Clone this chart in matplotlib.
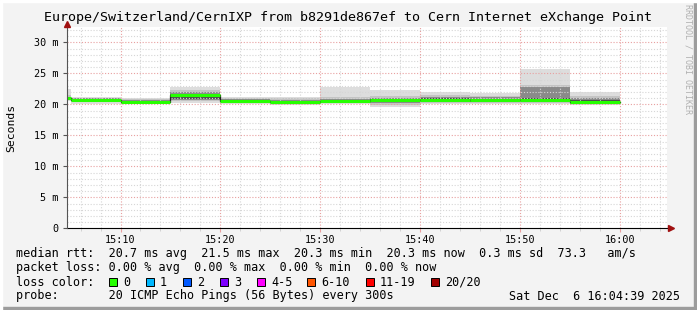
import matplotlib
matplotlib.use("Agg")
import matplotlib.pyplot as plt
from matplotlib.patches import Rectangle
import numpy as np

W, H = 697, 310

# step edges in minutes after 15:00 (first one is the partial step at the left edge)
edges = [4.65, 5, 10, 15, 20, 25, 30, 35, 40, 45, 50, 55, 60]
# rtt median per step (ms)
median = [21.0, 20.75, 20.45, 21.5, 20.5, 20.45, 20.6, 20.65, 20.75, 20.7, 20.7, 20.3]
# smoke bands, outer (lightest) to inner (darkest)
hi1 = [22.5, 21.2, 21.05, 22.85, 21.2, 21.2, 22.85, 22.3, 21.98, 21.82, 25.74, 21.98]
lo1 = [20.6, 20.1, 20.05, 20.15, 20.05, 19.95, 20.05, 19.6, 20.0, 20.05, 20.05, 19.95]
hi2 = [21.5, 21.05, 20.8, 22.3, 21.0, 20.95, 21.2, 21.3, 21.5, 21.35, 23.16, 21.3]
lo2 = [20.8, 20.3, 20.15, 20.5, 20.15, 20.1, 20.2, 19.9, 20.2, 20.2, 20.2, 20.0]
hi3 = [21.2, 20.95, 20.65, 21.95, 20.8, 20.75, 20.9, 20.95, 21.2, 21.2, 22.74, 20.95]
lo3 = [20.9, 20.5, 20.25, 20.75, 20.3, 20.25, 20.3, 20.2, 20.4, 20.35, 20.35, 20.1]
hi4 = [21.1, 20.85, 20.55, 21.6, 20.65, 20.6, 20.75, 20.8, 20.95, 20.9, 20.95, 20.65]
lo4 = [20.95, 20.6, 20.35, 20.9, 20.4, 20.35, 20.45, 20.4, 20.55, 20.45, 20.5, 20.2]
band_colors = ['#dddddd', '#c4c4c4', '#8a8a8a', '#4e4e4e']

xticks = [10, 20, 30, 40, 50, 60]
xlabels = ['15:10', '15:20', '15:30', '15:40', '15:50', '16:00']
yticks = [0, 5, 10, 15, 20, 25, 30]
ylabels = ['0', '5 m', '10 m', '15 m', '20 m', '25 m', '30 m']

loss_labels = ['0', '1', '2', '3', '4-5', '6-10', '11-19', '20/20']
loss_colors = ['#26ff00', '#00b8ff', '#0059ff', '#7e00ff', '#ff00ff', '#ff5500', '#ff0000', '#a10000']
loss_box_x = [109, 146, 183, 220, 257, 307, 366, 431]

MONO = 'DejaVu Sans Mono'


def px(x, y):
    return x / W, 1 - y / H


fig = plt.figure(figsize=(W / 100, H / 100), dpi=100, facecolor='#f3f3f3')

# 3d frame
fig.patches.append(Rectangle((0, 0), 1, 3 / H, transform=fig.transFigure, color='#9c9c9c', zorder=0))
fig.patches.append(Rectangle((1 - 3 / W, 0), 3 / W, 1, transform=fig.transFigure, color='#9c9c9c', zorder=0))
fig.patches.append(Rectangle((0, 1 - 2 / H), 1, 2 / H, transform=fig.transFigure, color='#ffffff', zorder=0))
fig.patches.append(Rectangle((0, 0), 2 / W, 1, transform=fig.transFigure, color='#ffffff', zorder=0))

top_px, bot_px = 27, 228.3
ax = fig.add_axes([67 / W, (H - bot_px) / H, 600 / W, (bot_px - top_px) / H])
ax.set_facecolor('white')
ax.set_xlim(edges[0], edges[0] + 60)
ax.set_ylim(0, (bot_px - top_px) / 6.2)
for s in ax.spines.values():
    s.set_visible(False)

x = np.array(edges)


def stepvals(v):
    return np.append(v, v[-1])


for lo, hi, c in zip([lo1, lo2, lo3, lo4], [hi1, hi2, hi3, hi4], band_colors):
    ax.fill_between(x, stepvals(lo), stepvals(hi), step='post', color=c, lw=0, zorder=1)

# grid
dots = (0, (1, 1.6))
for v in range(1, 33):
    if v % 5:
        ax.axhline(v, color='#d6d6d6', lw=0.8, ls=dots, zorder=2)
for v in range(6, 65, 2):
    if v % 10:
        ax.axvline(v, color='#d6d6d6', lw=0.8, ls=dots, zorder=2)
for v in yticks[1:]:
    ax.axhline(v, color='#e8a0a0', lw=0.8, ls=dots, zorder=2)
for v in xticks:
    ax.axvline(v, color='#e8a0a0', lw=0.8, ls=dots, zorder=2)

# median: thin dark line then thick loss-coloured line
ax.step(x, stepvals(median), where='post', color='#202020', lw=0.9, zorder=3)
ax.hlines(median, x[:-1], x[1:], color=loss_colors[0], lw=2.2, zorder=4)

# axes with arrows
ax.plot([edges[0], edges[0] + 60.3], [0, 0], color='black', lw=0.8, clip_on=False, zorder=5)
ax.plot([edges[0], edges[0]], [0, 32.9], color='#555555', lw=0.8, clip_on=False, zorder=5)
ax.plot([edges[0] + 60.4], [0], marker='>', color='#a01010', ms=4, clip_on=False, zorder=6)
ax.plot([edges[0]], [33.0], marker='^', color='#a01010', ms=4, clip_on=False, zorder=6)

ax.set_xticks(xticks)
ax.set_xticklabels(xlabels, family=MONO, fontsize=7.3)
ax.set_xticks(range(6, 65, 2), minor=True)
ax.set_yticks(yticks)
ax.set_yticklabels(ylabels, family=MONO, fontsize=7.3)
ax.tick_params(axis='x', which='major', length=3, color='#e8a0a0', pad=1.5)
ax.tick_params(axis='x', which='minor', length=2, color='#cccccc')
ax.tick_params(axis='y', which='major', length=3, color='#555555', pad=3)

fig.text(*px(348, 18), 'Europe/Switzerland/CernIXP from b8291de867ef to Cern Internet eXchange Point',
         family=MONO, fontsize=9.6, ha='center', va='center')
fig.text(*px(11, 128), 'Seconds', family=MONO, fontsize=8.2, rotation=90, ha='center', va='center')
fig.text(*px(688, 4), 'RRDTOOL / TOBI OETIKER', family=MONO, fontsize=6, rotation=270,
         ha='center', va='top', color='#b0b0b0')

leg = dict(family=MONO, fontsize=8.5, ha='left', va='center')
fig.text(*px(16, 254), 'median rtt:  20.7 ms avg  21.5 ms max  20.3 ms min  20.3 ms now  0.3 ms sd  73.3   am/s', **leg)
fig.text(*px(16, 268), 'packet loss: 0.00 % avg  0.00 % max  0.00 % min  0.00 % now', **leg)
fig.text(*px(16, 282), 'loss color:', **leg)
fig.text(*px(16, 296), 'probe:       20 ICMP Echo Pings (56 Bytes) every 300s', **leg)
fig.text(*px(680, 296), 'Sat Dec  6 16:04:39 2025', family=MONO, fontsize=8.5, ha='right', va='center')

for bx, lab, col in zip(loss_box_x, loss_labels, loss_colors):
    fx, fy = px(bx, 286)
    fig.patches.append(Rectangle((fx, fy), 8 / W, 8 / H, transform=fig.transFigure,
                                 facecolor=col, edgecolor='black', lw=0.7))
    fig.text(*px(bx + 14, 282), lab, **leg)

fig.savefig('out.png', dpi=100, facecolor=fig.get_facecolor())
